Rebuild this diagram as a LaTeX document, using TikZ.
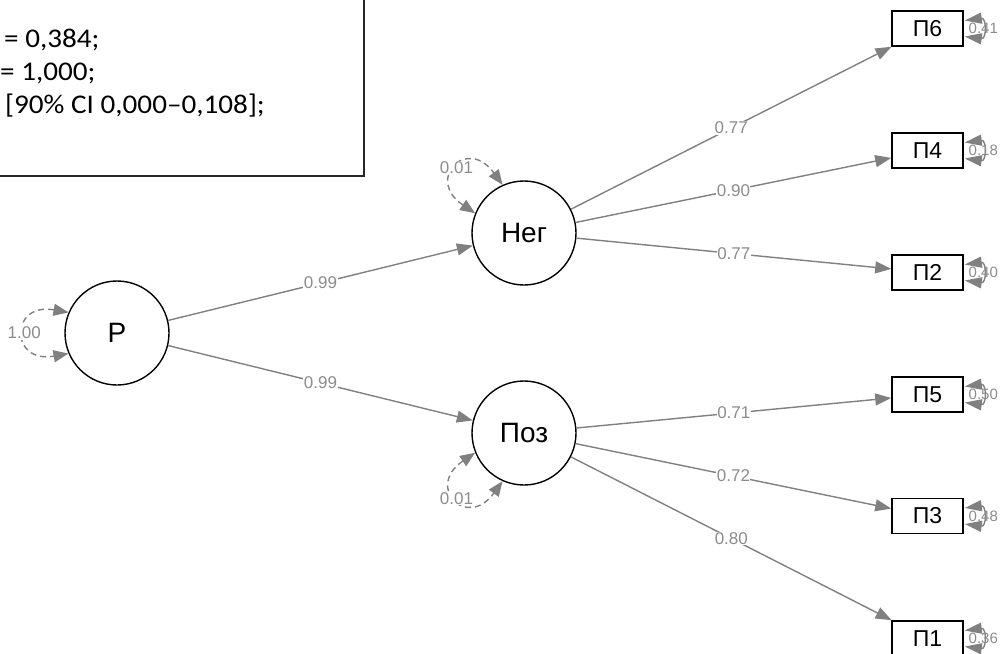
\documentclass[tikz,border=0pt]{standalone}
\usepackage{fontspec}
\setmainfont{Liberation Sans}
\newfontfamily\boxfont[Numbers=Lining]{Carlito}
\usetikzlibrary{arrows.meta,calc}
\definecolor{edgegray}{HTML}{808080}
\definecolor{labgray}{HTML}{8C8C8C}
\begin{document}
\begin{tikzpicture}[x=1pt,y=1pt,
  latent/.style={circle,draw=black,line width=1.4pt,minimum size=104pt,inner sep=0pt,
    font=\fontsize{28}{28}\selectfont},
  manifest/.style={rectangle,draw=black,line width=1.6pt,minimum width=71pt,
    minimum height=35pt,inner sep=0pt,font=\fontsize{23}{23}\selectfont},
  load/.style={draw=edgegray,line width=1.4pt,-{Triangle[length=16pt,width=12pt]}},
  latres/.style={draw=edgegray,line width=1.4pt,dash pattern=on 6pt off 4pt,
    {Triangle[length=15pt,width=12pt]}-{Triangle[length=15pt,width=12pt]}},
  obsres/.style={draw=edgegray,line width=1.4pt,
    {Triangle[length=17pt,width=11pt]}-{Triangle[length=17pt,width=11pt]}},
  elab/.style={font=\fontsize{17}{17}\selectfont,text=labgray,fill=white,inner sep=0.5pt},
  rlab/.style={font=\fontsize{15}{15}\selectfont,text=labgray,inner sep=0pt},
  fittext/.style={anchor=base west,inner sep=0pt,font=\boxfont\fontsize{27}{27}\selectfont}
]
\useasboundingbox (0,0) rectangle (1003,-653);
\clip (0,0) rectangle (1003,-653);

% fit statistics box
\draw[line width=2pt,draw=black!85] (-10,10) rectangle (363.5,-176);
\node[fittext] (fit1) at (4,-47) {\scalebox{1.08}[1]{= 0,384;}};
\node[fittext] (fit2) at (0,-80) {\scalebox{1.08}[1]{= 1,000;}};
\node[fittext] (fit3) at (5,-113) {\scalebox{1.08}[1]{[90\% CI 0,000–0,108];}};

% latent variables
\node[latent] (P)   at (117,-333) {Р};
\node[latent] (neg) at (524,-233) {Нег};
\node[latent] (poz) at (524,-433) {Поз};

% observed items
\node[manifest] (p6) at (927.5,-28.5)  {П6};
\node[manifest] (p4) at (927.5,-150.5) {П4};
\node[manifest] (p2) at (927.5,-272.5) {П2};
\node[manifest] (p5) at (927.5,-394.5) {П5};
\node[manifest] (p3) at (927.5,-516)   {П3};
\node[manifest] (p1) at (927.5,-638.5) {П1};

% structural paths
\draw[load] (P) -- (neg) node[pos=0.5,elab] {0.99};
\draw[load] (P) -- (poz) node[pos=0.5,elab] {0.99};

% loadings
\draw[load] (neg) -- (p6) node[pos=0.5,elab] {0.77};
\draw[load] (neg) -- (p4) node[pos=0.5,elab] {0.90};
\draw[load] (neg) -- (p2) node[pos=0.5,elab] {0.77};
\draw[load] (poz) -- (p5) node[pos=0.5,elab] {0.71};
\draw[load] (poz) -- (p3) node[pos=0.5,elab] {0.72};
\draw[load] (poz) -- (p1) node[pos=0.5,elab] {0.80};

% latent variances
\draw[latres] (P.157) .. controls +(170:60) and +(190:60) .. (P.203)
  node[pos=0.5,elab] {1.00};
\draw[latres] (neg.158) .. controls +(146:61) and +(126:61) .. (neg.114)
  node[pos=0.5,elab] {0.01};
\draw[latres] (poz.202) .. controls +(214:61) and +(234:61) .. (poz.246)
  node[pos=0.5,elab] {0.01};

% residual variances of the items
\foreach \n/\v in {p6/0.41,p4/0.18,p2/0.40,p5/0.50,p3/0.48,p1/0.36}{
  \draw[obsres] ($(\n.east)+(1,8)$) .. controls +(22,3) and +(22,-3) .. ($(\n.east)+(1,-8)$)
    node[pos=0.5,rlab,xshift=2pt] {\v};
}
\end{tikzpicture}
\end{document}
